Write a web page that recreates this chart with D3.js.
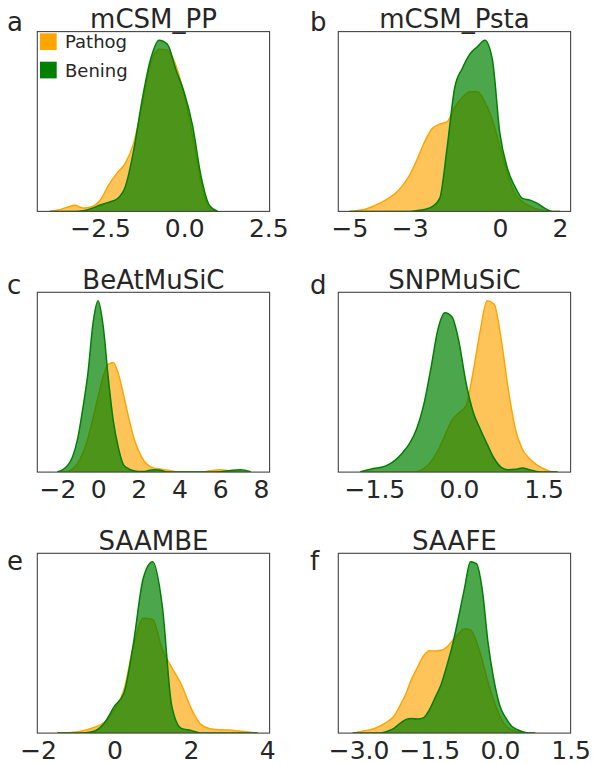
<!DOCTYPE html>
<html><head><meta charset="utf-8">
<script src="https://cdn.jsdelivr.net/npm/d3@7"></script>
<style>body{margin:0;background:#fff} svg{display:block;font-family:"DejaVu Sans",sans-serif}</style>
</head><body><svg id="c" width="593" height="764"></svg>
<script>
// ---------- DATA ----------
const letters = ["a","b","c","d","e","f"];
const titles = ["mCSM_PP","mCSM_Psta","BeAtMuSiC","SNPMuSiC","SAAMBE","SAAFE"];
const seriesNames = ["Pathog","Bening"];
const xDomains = [[-4.37,2.54],[-5.37,2.35],[-2.99,8.43],[-2.14,1.98],[-2.02,4.06],[-3.43,1.50]];
const tickValues = [[-2.5,0,2.5],[-5,-3,0,2],[-2,0,2,4,6,8],[-1.5,0,1.5],[-2,0,2,4],[-3,-1.5,0,1.5]];
const tickFormats = [".1f","d","d",".1f","d",".1f"];

// sample points (x) and relative KDE heights for each panel
const gridA = [-4,-3.75,-3.5,-3.25,-3,-2.75,-2.5,-2.25,-2,-1.75,-1.5,-1.25,-1,-0.75,-0.5,-0.25,0,0.25,0.5,0.75,1];
const pathogA = [0,1.3,4,6,3.3,4.7,11,26,38,48,68,106,146,161,160,145,115,75,28,3,0];
const beningA = [0,0,0,0,0.7,3,6.3,9,12.3,24.7,61,111,151,170,166,141,118,85,35,6,0];

const gridB = [-5,-4.75,-4.5,-4.25,-4,-3.75,-3.5,-3.25,-3,-2.75,-2.5,-2.25,-2,-1.75,-1.5,-1.25,-1,-0.75,-0.5,-0.25,0,0.25,0.5,0.75,1,1.25,1.5,1.75,2];
const pathogB = [0,0.7,2,4.7,8,12.3,17.3,25.3,36.3,52,69.7,83,87.3,89.7,104,114,119.7,119.7,109.7,91.3,64.7,38,18,9.7,5.3,2.3,0.7,0,0];
const beningB = [0,0,0,0,0,0,0,0,0,0.7,2,4.7,13,64.7,124,143,157.3,164.7,171.3,152,78,43,24.7,13,11.3,8,3,0,0];

const gridC = [-2,-1.75,-1.5,-1.25,-1,-0.75,-0.5,-0.25,0,0.25,0.5,0.75,1,1.25,1.5,1.75,2,2.25,2.5,2.75,3,3.25,3.5,3.75,4,4.5,5,5.5,6,6.5,7,7.5];
const pathogC = [0,0.3,1,3.3,9,19,34,54,75.7,95.7,108,109.7,98,77.3,54.7,34.7,20.7,11.3,6.3,4,3.3,2.3,1.7,0.7,0.3,0,0,1.3,2.3,1,0,0];
const beningC = [0.3,2.3,6.7,15.7,34,64,99,149,171.3,145.7,94,50.7,24,7.3,3.3,1.3,0.7,0.7,1.7,2.3,2,0.7,0,0,0,0,0,0,0.3,1.7,2.3,0.3];

const gridD = [-1.75,-1.625,-1.5,-1.375,-1.25,-1.125,-1,-0.875,-0.75,-0.625,-0.5,-0.375,-0.25,-0.125,0,0.125,0.25,0.375,0.5,0.625,0.75,0.875,1,1.125,1.25,1.375,1.5,1.625,1.75];
const pathogD = [0,0,0,0,0,0,0,0,0.3,3.3,10,20.7,35.7,50.7,58,64.7,97.3,137.3,167.3,164,129,80.7,42.3,22.3,13.3,7.3,3.3,0.7,0];
const beningD = [0.3,2,3.7,4.7,7.3,12,19,28,42.3,65.7,100.7,139,155.7,151.7,127.3,87.3,59,42.3,27.3,13.3,4.7,2.3,2.7,4,2.3,0.7,0,0,0];

const gridE = [-1.5,-1.25,-1,-0.75,-0.5,-0.25,0,0.25,0.5,0.75,1,1.25,1.5,1.75,2,2.25,2.5,2.75,3,3.25,3.5,3.75];
const pathogE = [0,0.3,1,3,6,11.3,23.3,43.3,86.7,114,112.7,83.3,65,48.3,25,9,4.3,3.3,3,2,1,0];
const beningE = [0,0,0,0.3,2.3,10.7,26.7,40,90,153.3,170,126.7,26.7,4.7,2.7,0,0,0,0,0,0,0];

const gridF = [-3.125,-3,-2.875,-2.75,-2.625,-2.5,-2.375,-2.25,-2.125,-2,-1.875,-1.75,-1.625,-1.5,-1.375,-1.25,-1.125,-1,-0.875,-0.75,-0.625,-0.5,-0.375,-0.25,-0.125,0,0.125,0.25,0.375,0.5,0.625,0.75];
const pathogF = [0,1,2.3,3.3,5.3,8,11.7,16.7,26.7,38.3,53.3,65,76,81.3,81,81.7,85,91.7,98.3,103,101.7,90.7,71.7,50,31.7,16.7,7.3,3.3,1.3,0,0,0];
const beningF = [0,0,0,0,0,0.3,2,4.7,9.3,13.3,14.3,14,15,22.7,35,47.7,66.7,88.3,115,143.3,169,167.3,141.7,88.3,51.7,26.7,15,6.7,3.3,1,0,0];

const grids = [gridA,gridB,gridC,gridD,gridE,gridF];
const pathogs = [pathogA,pathogB,pathogC,pathogD,pathogE,pathogF];
const benings = [beningA,beningB,beningC,beningD,beningE,beningF];

// ---------- LAYOUT ----------
const colLeft = [37.3, 338.3];
const frameW = 232.3;
const rowTop = [31.6, 292.3, 553.3];
const frameH = 179.8;
const textColor = "#262626";
const frameColor = "#444444";
const orange = "#FFA500", green = "#008000";

const svg = d3.select("#c");

letters.forEach((L, i) => {
  const col = i % 2, row = Math.floor(i / 2);
  const x0 = colLeft[col], y0 = rowTop[row];
  const g = svg.append("g").attr("transform", `translate(${x0},${y0})`);

  const x = d3.scaleLinear().domain(xDomains[i]).range([0, frameW]);
  const ymax = d3.max(pathogs[i].concat(benings[i]));
  const y = d3.scaleLinear().domain([0, ymax * 1.05]).range([frameH, 0]);

  const cid = "clip" + i;
  g.append("clipPath").attr("id", cid).append("rect").attr("width", frameW).attr("height", frameH);
  const plot = g.append("g").attr("clip-path", `url(#${cid})`);

  const series = [
    {vals: pathogs[i], color: orange, fillOp: 0.65},
    {vals: benings[i], color: green, fillOp: 0.7}
  ];
  series.forEach(s => {
    const pts = grids[i].map((xv, k) => [xv, s.vals[k]]);
    const area = d3.area().x(d => x(d[0])).y0(frameH).y1(d => y(d[1])).curve(d3.curveMonotoneX);
    const line = d3.line().x(d => x(d[0])).y(d => y(d[1])).curve(d3.curveMonotoneX);
    plot.append("path").attr("d", area(pts)).attr("fill", s.color).attr("fill-opacity", s.fillOp);
    plot.append("path").attr("d", line(pts)).attr("fill", "none").attr("stroke", s.color).attr("stroke-width", 1.5);
  });

  // frame
  g.append("rect").attr("width", frameW).attr("height", frameH)
    .attr("fill", "none").attr("stroke", frameColor).attr("stroke-width", 1.1);

  // x axis (labels only)
  const ax = g.append("g").attr("transform", `translate(0,${frameH})`)
    .call(d3.axisBottom(x).tickValues(tickValues[i]).tickFormat(d3.format(tickFormats[i])).tickSize(0).tickPadding(8));
  ax.select(".domain").remove();
  ax.selectAll("text").attr("fill", textColor).style("font-size", "25px").style("font-family", "DejaVu Sans");

  // title
  g.append("text").attr("x", frameW / 2).attr("y", -3.5).attr("text-anchor", "middle")
    .attr("fill", textColor).style("font-size", "26px").text(titles[i]);
});

// panel letters
const letterX = [7, 310];
const letterBase = [30.5, 293.5, 570];
letters.forEach((L, i) => {
  svg.append("text").attr("x", letterX[i % 2]).attr("y", letterBase[Math.floor(i / 2)])
    .attr("fill", textColor).style("font-size", "26px").text(L);
});

// legend (panel a)
const leg = svg.append("g").attr("transform", `translate(40,33.3)`);
[orange, green].forEach((c, k) => {
  leg.append("rect").attr("x", 0).attr("y", k * 28.4).attr("width", 16.7).attr("height", 16.7).attr("fill", c);
  leg.append("text").attr("x", 25).attr("y", k * 28.4 + 15).attr("fill", textColor)
    .style("font-size", "18px").text(seriesNames[k]);
});
</script></body></html>
